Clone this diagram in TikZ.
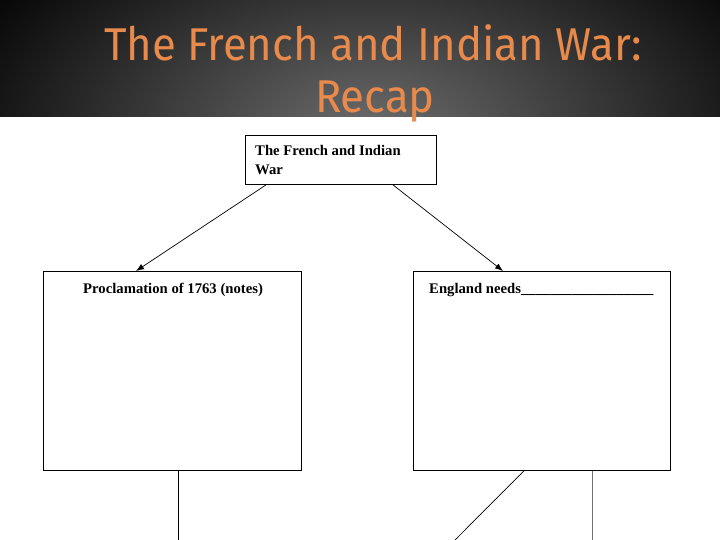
\documentclass[tikz,border=0pt]{standalone}
\usepackage{fontspec}
\setmainfont{Liberation Serif}
\newfontfamily\titlefont[FakeStretch=0.95]{Fira Sans}
\usetikzlibrary{arrows.meta}
\definecolor{titleorange}{RGB}{232,138,76}
\definecolor{headgrey}{RGB}{108,108,108}
\definecolor{linegrey}{RGB}{110,110,110}
\tikzset{
  boxstyle/.style={draw=black, line width=0.9pt, fill=white, rectangle, anchor=north west, inner sep=0pt},
  boxtext/.style={font=\fontsize{14.7}{19}\selectfont\bfseries, inner sep=0pt, anchor=base west},
  titletext/.style={font=\titlefont\fontsize{46}{52}\selectfont, text=titleorange, inner sep=0pt, anchor=base},
  arr/.style={draw=black, line width=0.7pt, -{Latex[length=8pt,width=6pt]}},
  plain/.style={draw=black, line width=0.9pt}
}
\begin{document}
\begin{tikzpicture}[x=1pt,y=-1pt]
\useasboundingbox (0,0) rectangle (720,540);
\fill[white] (0,0) rectangle (720,540);
% header
\begin{scope}
\clip (0,0) rectangle (720,117);
\shade[inner color=headgrey, outer color=black] (372,130) ellipse [x radius=470pt, y radius=260pt];
\end{scope}
% boxes
\node[boxstyle, minimum width=191pt, minimum height=49pt] (top) at (245,135) {};
\node[boxstyle, minimum width=258pt, minimum height=199pt] (procl) at (43,271) {};
\node[boxstyle, minimum width=257pt, minimum height=199pt] (england) at (413,271) {};
% box texts
\node[boxtext] (toptext1) at (255,156) {The French and Indian};
\node[boxtext] (toptext2) at (255,175) {War};
\node[boxtext] (procltext) at (83,293) {Proclamation of 1763 (notes)};
\node[boxtext] (engtext) at (429,293) {England needs\_\_\_\_\_\_\_\_\_\_\_\_\_\_\_\_\_\_};
% arrows
\draw[arr] ([xshift=21pt]top.south west) -- ([xshift=93pt]procl.north west);
\draw[arr] ([xshift=148pt]top.south west) -- ([xshift=90pt]england.north west);
% lower connectors
\coordinate (lowA) at (178,540);
\coordinate (lowB) at (455,540);
\coordinate (lowC) at (592,540);
\draw[plain] ([xshift=135pt]procl.south west) -- (lowA);
\draw[plain, line width=0.7pt] ([xshift=111pt]england.south west) -- (lowB);
\draw[plain, draw=linegrey] ([xshift=179pt]england.south west) -- (lowC);
% title
\node[titletext] (title1) at (373,61) {The French and Indian War:};
\node[titletext] (title2) at (375,113) {Recap};
\end{tikzpicture}
\end{document}
